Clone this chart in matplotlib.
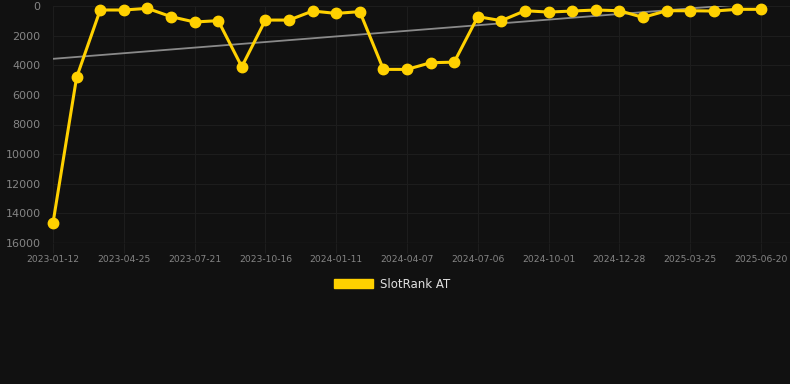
import numpy as np
import matplotlib.pyplot as plt
from matplotlib.patches import Patch

# rank values, one per snapshot (lower is better)
ranks = [14650, 4820, 270, 270, 160, 720, 1080, 990, 4100, 950, 950, 340, 500, 380, 4280,
         4280, 3830, 3790, 720, 990, 320, 410, 340, 270, 320, 770, 320, 320, 340, 225, 225]
tick_labels = ['2023-01-12', '2023-04-25', '2023-07-21', '2023-10-16', '2024-01-11', '2024-04-07',
               '2024-07-06', '2024-10-01', '2024-12-28', '2025-03-25', '2025-06-20']
y_ticks = [0, 2000, 4000, 6000, 8000, 10000, 12000, 14000, 16000]
series_name = 'SlotRank AT'

bg = '#111111'
gold = '#FFD100'

x = np.arange(len(ranks))
slope, icpt = np.polyfit(x, ranks, 1)

fig = plt.figure(figsize=(7.9, 3.84), dpi=100, facecolor=bg)
ax = fig.add_axes([53/790, 1 - 243/384, (790 - 53)/790, (243 - 6)/384])
ax.set_facecolor(bg)

ax.plot(x, slope * x + icpt, color='#8a8a8a', lw=1.3, zorder=2)
ax.plot(x, ranks, color=gold, lw=2.2, marker='o', ms=7.5, zorder=3, clip_on=False)

step = (761 - 53) / (len(ranks) - 1)
ax.set_xlim(0, (790 - 53) / step)
ax.set_ylim(16000, 0)
ax.set_yticks(y_ticks)
ax.set_yticklabels([str(v) for v in y_ticks])
ax.set_xticks(x[::3])
ax.set_xticklabels(tick_labels)

ax.grid(True, color='#1d1d1d', lw=0.8)
ax.axhline(16000, color='#2b2b2b', lw=0.9, zorder=1)
for s in ax.spines.values():
    s.set_visible(False)
ax.tick_params(axis='y', labelcolor='#858585', labelsize=8.0, length=0, pad=9)
ax.tick_params(axis='x', colors='#1d1d1d', labelcolor='#858585', labelsize=6.6, length=7, pad=2)

fig.legend(handles=[Patch(facecolor=gold, edgecolor=gold)], labels=[series_name],
           loc='center', bbox_to_anchor=(392/790, 1 - 284/384), frameon=False,
           fontsize=8.5, labelcolor='#e0e0e0', handlelength=3.3, handleheight=0.9,
           handletextpad=0.6)

fig.savefig('out.png', dpi=100, facecolor=bg)
